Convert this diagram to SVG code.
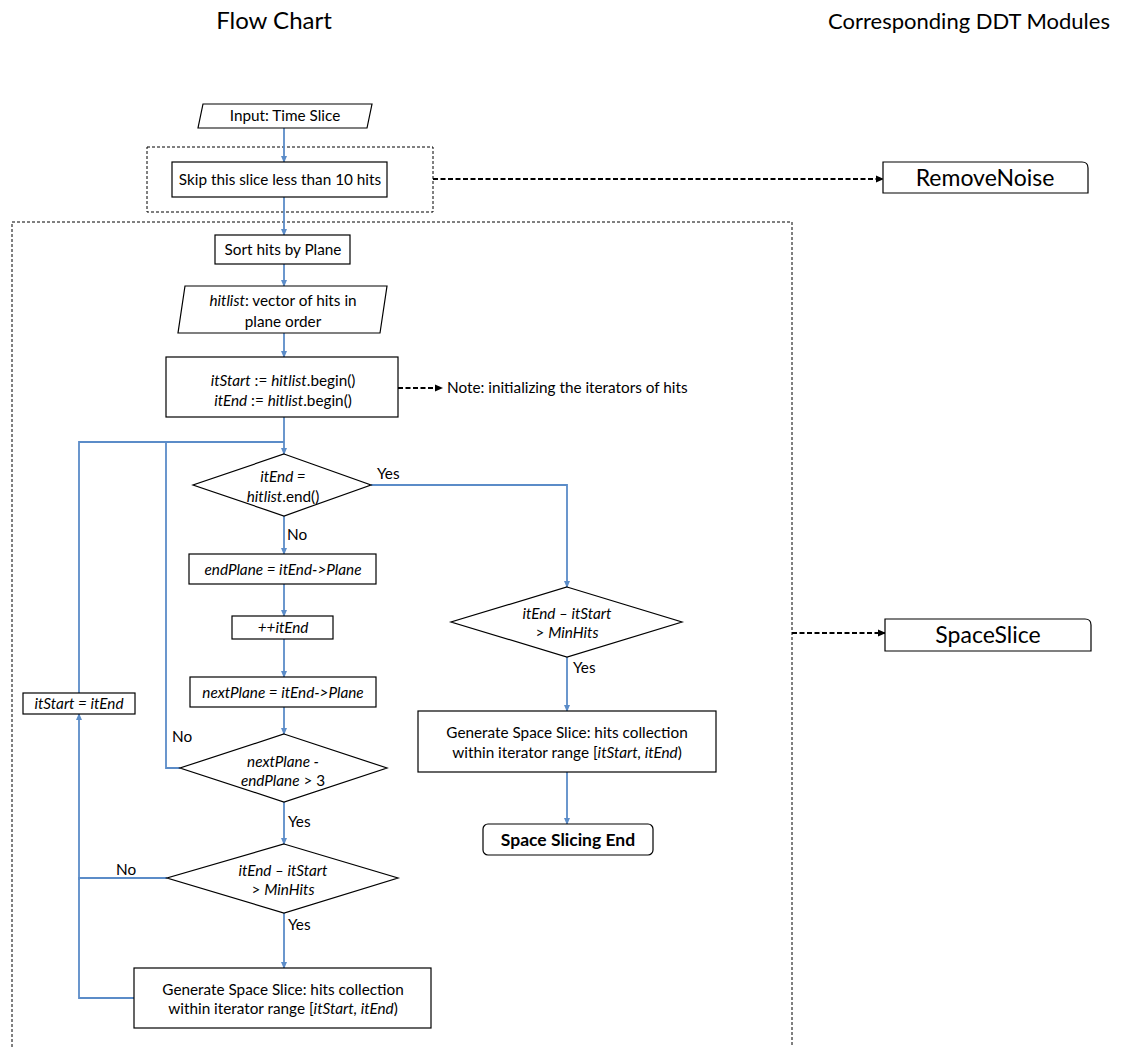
<svg xmlns="http://www.w3.org/2000/svg" width="1121" height="1047" viewBox="0 0 1121 1047">
  <style>
    text { font-family: Lato, "Open Sans", "Liberation Sans", sans-serif; fill: #000; }
    .t { font-size: 15.3px; text-anchor: middle; }
    .lbl { font-size: 15.3px; }
    .title { text-anchor: middle; }
    .mod { font-size: 23px; text-anchor: middle; }
    .node { fill: #fff; stroke: #000; stroke-width: 1.2; }
    .group { fill: none; stroke: #000; stroke-width: 1; stroke-dasharray: 3 2; }
    .flow { fill: none; stroke: #5b8cc8; stroke-width: 1.8; }
    .flowA { fill: none; stroke: #5b8cc8; stroke-width: 1.8; marker-end: url(#blue); }
    .link { fill: none; stroke: #000; stroke-width: 1.8; stroke-dasharray: 5 2.5; marker-end: url(#black); }
    .i { font-style: italic; }
    .b { font-weight: bold; }
  </style>
  <defs>
    <marker id="blue" viewBox="0 0 8 8" refX="7" refY="4" markerWidth="7" markerHeight="7" markerUnits="userSpaceOnUse" orient="auto">
      <path d="M0,0.5 L8,4 L0,7.5 z" fill="#5b8cc8"/>
    </marker>
    <marker id="black" viewBox="0 0 8 8" refX="7" refY="4" markerWidth="8" markerHeight="8" markerUnits="userSpaceOnUse" orient="auto">
      <path d="M0,0.5 L8,4 L0,7.5 z" fill="#000"/>
    </marker>
  </defs>

  <rect width="1121" height="1047" fill="#fff"/>

  <!-- column headings -->
  <text class="title" x="274" y="29" style="font-size:24px">Flow Chart</text>
  <text class="title" x="969" y="29" style="font-size:22px">Corresponding DDT Modules</text>

  <!-- module groupings -->
  <rect class="group" x="147" y="147" width="286" height="65"/>
  <rect class="group" x="12" y="222" width="780" height="840"/>

  <!-- connectors -->
  <g id="connectors">
    <line class="flowA" x1="284" y1="128" x2="284" y2="162"/>
    <line class="flowA" x1="284" y1="197" x2="284" y2="235"/>
    <line class="flowA" x1="284" y1="264" x2="284" y2="286"/>
    <line class="flowA" x1="284" y1="333" x2="284" y2="357"/>
    <line class="flowA" x1="284" y1="417" x2="284" y2="454"/>
    <!-- loop return lines -->
    <polyline class="flow" points="79,693 79,442 284,442"/>
    <polyline class="flow" points="180,768 166,768 166,442"/>
    <polyline class="flow" points="134,998 79,998 79,878 167,878"/>
    <line class="flowA" x1="79" y1="880" x2="79" y2="714"/>
    <!-- main column -->
    <line class="flowA" x1="284" y1="516" x2="284" y2="554"/>
    <line class="flowA" x1="284" y1="584" x2="284" y2="616"/>
    <line class="flowA" x1="284" y1="639" x2="284" y2="677"/>
    <line class="flowA" x1="284" y1="707" x2="284" y2="734"/>
    <line class="flowA" x1="284" y1="802" x2="284" y2="844"/>
    <line class="flowA" x1="284" y1="913" x2="284" y2="968"/>
    <!-- yes branch -->
    <polyline class="flowA" points="371,485 567,485 567,587"/>
    <line class="flowA" x1="567" y1="657" x2="567" y2="711"/>
    <line class="flowA" x1="567" y1="772" x2="567" y2="824"/>
    <!-- module links -->
    <line class="link" x1="433" y1="179" x2="883" y2="179"/>
    <line class="link" x1="792" y1="633" x2="885" y2="633"/>
    <line class="link" x1="398" y1="388" x2="442" y2="388"/>
  </g>

  <!-- branch labels -->
  <text class="lbl" x="377" y="479">Yes</text>
  <text class="lbl" x="287" y="540">No</text>
  <text class="lbl" x="172" y="742">No</text>
  <text class="lbl" x="288" y="827">Yes</text>
  <text class="lbl" x="116" y="875">No</text>
  <text class="lbl" x="288" y="930">Yes</text>
  <text class="lbl" x="573" y="673">Yes</text>
  <text class="lbl" x="447" y="393">Note: initializing the iterators of hits</text>

  <g id="input">
    <polygon class="node" points="203,104 372,104 367,128 198,128"/>
    <text class="t" x="285" y="121">Input: Time Slice</text>
  </g>
  <g id="skip">
    <rect class="node" x="172" y="162" width="215" height="35"/>
    <text class="t" x="280" y="185">Skip this slice less than 10 hits</text>
  </g>
  <g id="sort">
    <rect class="node" x="215" y="235" width="135" height="29"/>
    <text class="t" x="283" y="255">Sort hits by Plane</text>
  </g>
  <g id="hitlist">
    <polygon class="node" points="185,286 387,286 380,333 178,333"/>
    <text class="t" x="283" y="306"><tspan class="i">hitlist</tspan>: vector of hits in</text>
    <text class="t" x="283" y="327">plane order</text>
  </g>
  <g id="init">
    <rect class="node" x="166" y="357" width="232" height="60"/>
    <text class="t" x="283" y="386"><tspan class="i">itStart</tspan> := <tspan class="i">hitlist</tspan>.begin()</text>
    <text class="t" x="283" y="406"><tspan class="i">itEnd</tspan> := <tspan class="i">hitlist</tspan>.begin()</text>
  </g>
  <g id="check-end">
    <polygon class="node" points="284,454 371,485 284,516 193,485"/>
    <text class="t i" x="283" y="482">itEnd =</text>
    <text class="t" x="283" y="502"><tspan class="i">hitlist</tspan>.end()</text>
  </g>
  <g id="end-plane">
    <rect class="node" x="189" y="554" width="187" height="30"/>
    <text class="t i" x="283" y="575">endPlane = itEnd-&gt;Plane</text>
  </g>
  <g id="inc-end">
    <rect class="node" x="232" y="616" width="101" height="23"/>
    <text class="t i" x="283" y="633">++itEnd</text>
  </g>
  <g id="next-plane">
    <rect class="node" x="190" y="677" width="186" height="30"/>
    <text class="t i" x="283" y="698">nextPlane = itEnd-&gt;Plane</text>
  </g>
  <g id="reset-start">
    <rect class="node" x="23" y="693" width="112" height="21"/>
    <text class="t i" x="79" y="709">itStart = itEnd</text>
  </g>
  <g id="gap-check">
    <polygon class="node" points="284,734 387,768 284,802 180,768"/>
    <text class="t i" x="283" y="767">nextPlane -</text>
    <text class="t" x="283" y="786"><tspan class="i">endPlane</tspan>  &gt; 3</text>
  </g>
  <g id="size-check">
    <polygon class="node" points="284,844 398,878 284,913 167,878"/>
    <text class="t i" x="283" y="876">itEnd – itStart</text>
    <text class="t" x="283" y="895">&gt; <tspan class="i">MinHits</tspan></text>
  </g>
  <g id="generate">
    <rect class="node" x="134" y="968" width="297" height="60"/>
    <text class="t" x="283" y="995">Generate Space Slice: hits collection</text>
    <text class="t" x="283" y="1014">within iterator range [<tspan class="i">itStart, itEnd</tspan>)</text>
  </g>
  <g id="final-size-check">
    <polygon class="node" points="567,587 682,622 567,657 451,622"/>
    <text class="t i" x="567" y="619">itEnd – itStart</text>
    <text class="t" x="567" y="638">&gt; <tspan class="i">MinHits</tspan></text>
  </g>
  <g id="final-generate">
    <rect class="node" x="418" y="711" width="298" height="61"/>
    <text class="t" x="567" y="738">Generate Space Slice: hits collection</text>
    <text class="t" x="567" y="758">within iterator range [<tspan class="i">itStart, itEnd</tspan>)</text>
  </g>
  <g id="slicing-end">
    <rect class="node" x="483" y="824" width="170" height="31" rx="5"/>
    <text class="t b" x="568" y="846" style="font-size:17.5px">Space Slicing End</text>
  </g>

  <g id="remove-noise">
    <path class="node" d="M883,162 H1082 Q1088,162 1088,168 V193 H883 Z"/>
    <text class="mod" x="985" y="186">RemoveNoise</text>
  </g>
  <g id="space-slice">
    <path class="node" d="M885,619 H1085 Q1091,619 1091,625 V651 H885 Z"/>
    <text class="mod" x="988" y="643">SpaceSlice</text>
  </g>
</svg>
